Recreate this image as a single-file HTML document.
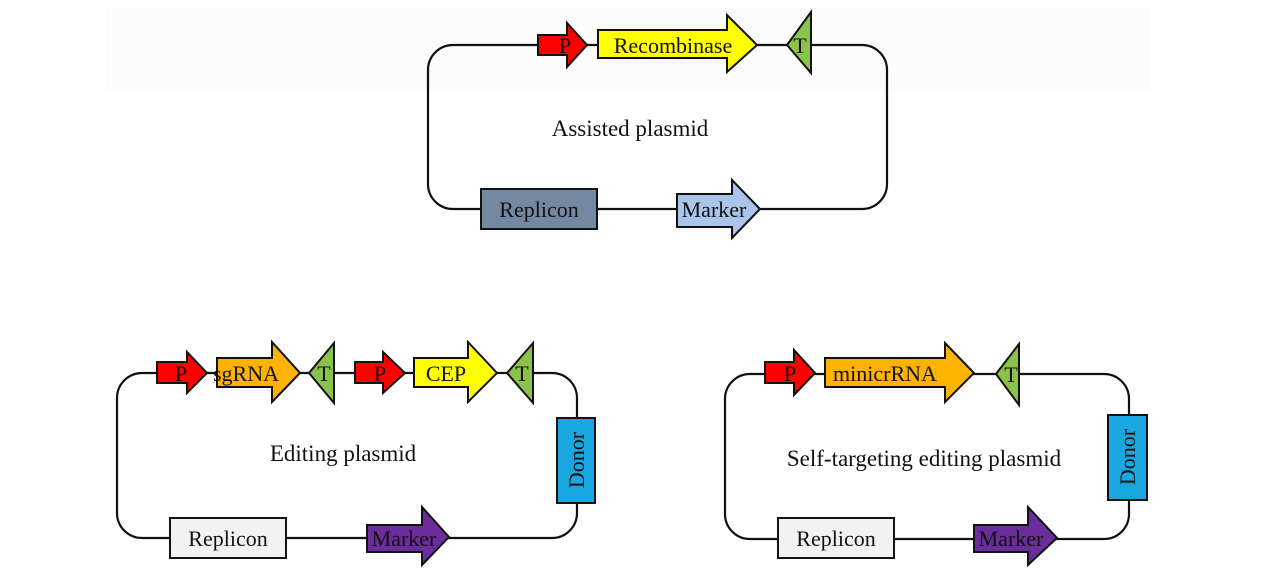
<!DOCTYPE html>
<html><head><meta charset="utf-8"><style>
html,body{margin:0;padding:0;background:#fff;}
svg{display:block;}
text{font-family:"Liberation Serif",serif;fill:#111;}
</style></head><body>
<svg width="1268" height="586" viewBox="0 0 1268 586" xmlns="http://www.w3.org/2000/svg">
<rect x="105" y="8" width="1045" height="82" fill="#fcfcfc"/>
<g fill="none" stroke="#111" stroke-width="2.2">
<rect x="428" y="45" width="459" height="164" rx="25"/>
<rect x="117" y="373" width="460" height="165" rx="25"/>
<rect x="725" y="374" width="404" height="165" rx="25"/>
</g>
<g stroke="#111" stroke-width="2">
<polygon points="538,35 567,35 567,23 587,45 567,67 567,55 538,55" fill="#ff0000"/>
<polygon points="598,30 727,30 727,15 757,45 727,72 727,58 598,58" fill="#ffff00"/>
<polygon points="787,45 811,12 811,73" fill="#8bc34a"/>
<rect x="481" y="189" width="116" height="40" fill="#7488a2"/>
<polygon points="677,194 732,194 732,180 760,209 732,238 732,227 677,227" fill="#a9c6ea"/>
<polygon points="157,362 187,362 187,352 207,373 187,393 187,383 157,383" fill="#ff0000"/>
<polygon points="217,358 272,358 272,342 300,373 272,402 272,387 217,387" fill="#ffb300"/>
<polygon points="309,373 334,343 334,403" fill="#8bc34a"/>
<polygon points="355,362 383,362 383,352 405,373 383,393 383,383 355,383" fill="#ff0000"/>
<polygon points="414,358 468,358 468,342 497,373 468,402 468,387 414,387" fill="#ffff00"/>
<polygon points="507,373 533,343 533,403" fill="#8bc34a"/>
<rect x="557" y="418" width="38" height="85" fill="#1aa7e0"/>
<rect x="170" y="518" width="116" height="40" fill="#f2f2f2"/>
<polygon points="367,525 422,525 422,507 449,537 422,565 422,552 367,552" fill="#6b2c9c"/>
<polygon points="765,362 794,362 794,350 815,373 794,395 794,383 765,383" fill="#ff0000"/>
<polygon points="825,358 945,358 945,343 974,373 945,402 945,387 825,387" fill="#ffb300"/>
<polygon points="996,374 1019,344 1019,405" fill="#8bc34a"/>
<rect x="1108" y="415" width="39" height="85" fill="#1aa7e0"/>
<rect x="778" y="518" width="116" height="40" fill="#f2f2f2"/>
<polygon points="974,525 1028,525 1028,507 1057,538 1028,565 1028,552 974,552" fill="#6b2c9c"/>
</g>
<g font-size="22" text-anchor="middle">
<text x="565" y="53">P</text>
<text x="673" y="53">Recombinase</text>
<text x="800" y="53">T</text>
<text x="630" y="136" font-size="23">Assisted plasmid</text>
<text x="539" y="217">Replicon</text>
<text x="714" y="217">Marker</text>
<text x="181" y="381">P</text>
<text x="246" y="381">sgRNA</text>
<text x="324" y="381">T</text>
<text x="380" y="381">P</text>
<text x="446" y="381">CEP</text>
<text x="522" y="381">T</text>
<text x="343" y="461" font-size="23">Editing plasmid</text>
<text x="228" y="546">Replicon</text>
<text x="404" y="546">Marker</text>
<text x="790" y="381">P</text>
<text x="885" y="381">minicrRNA</text>
<text x="1011" y="382">T</text>
<text x="924" y="466" font-size="23">Self-targeting editing plasmid</text>
<text x="836" y="546">Replicon</text>
<text x="1011" y="546">Marker</text>
<text transform="translate(584,460) rotate(-90)">Donor</text>
<text transform="translate(1135,457) rotate(-90)">Donor</text>
</g>
</svg>
</body></html>
